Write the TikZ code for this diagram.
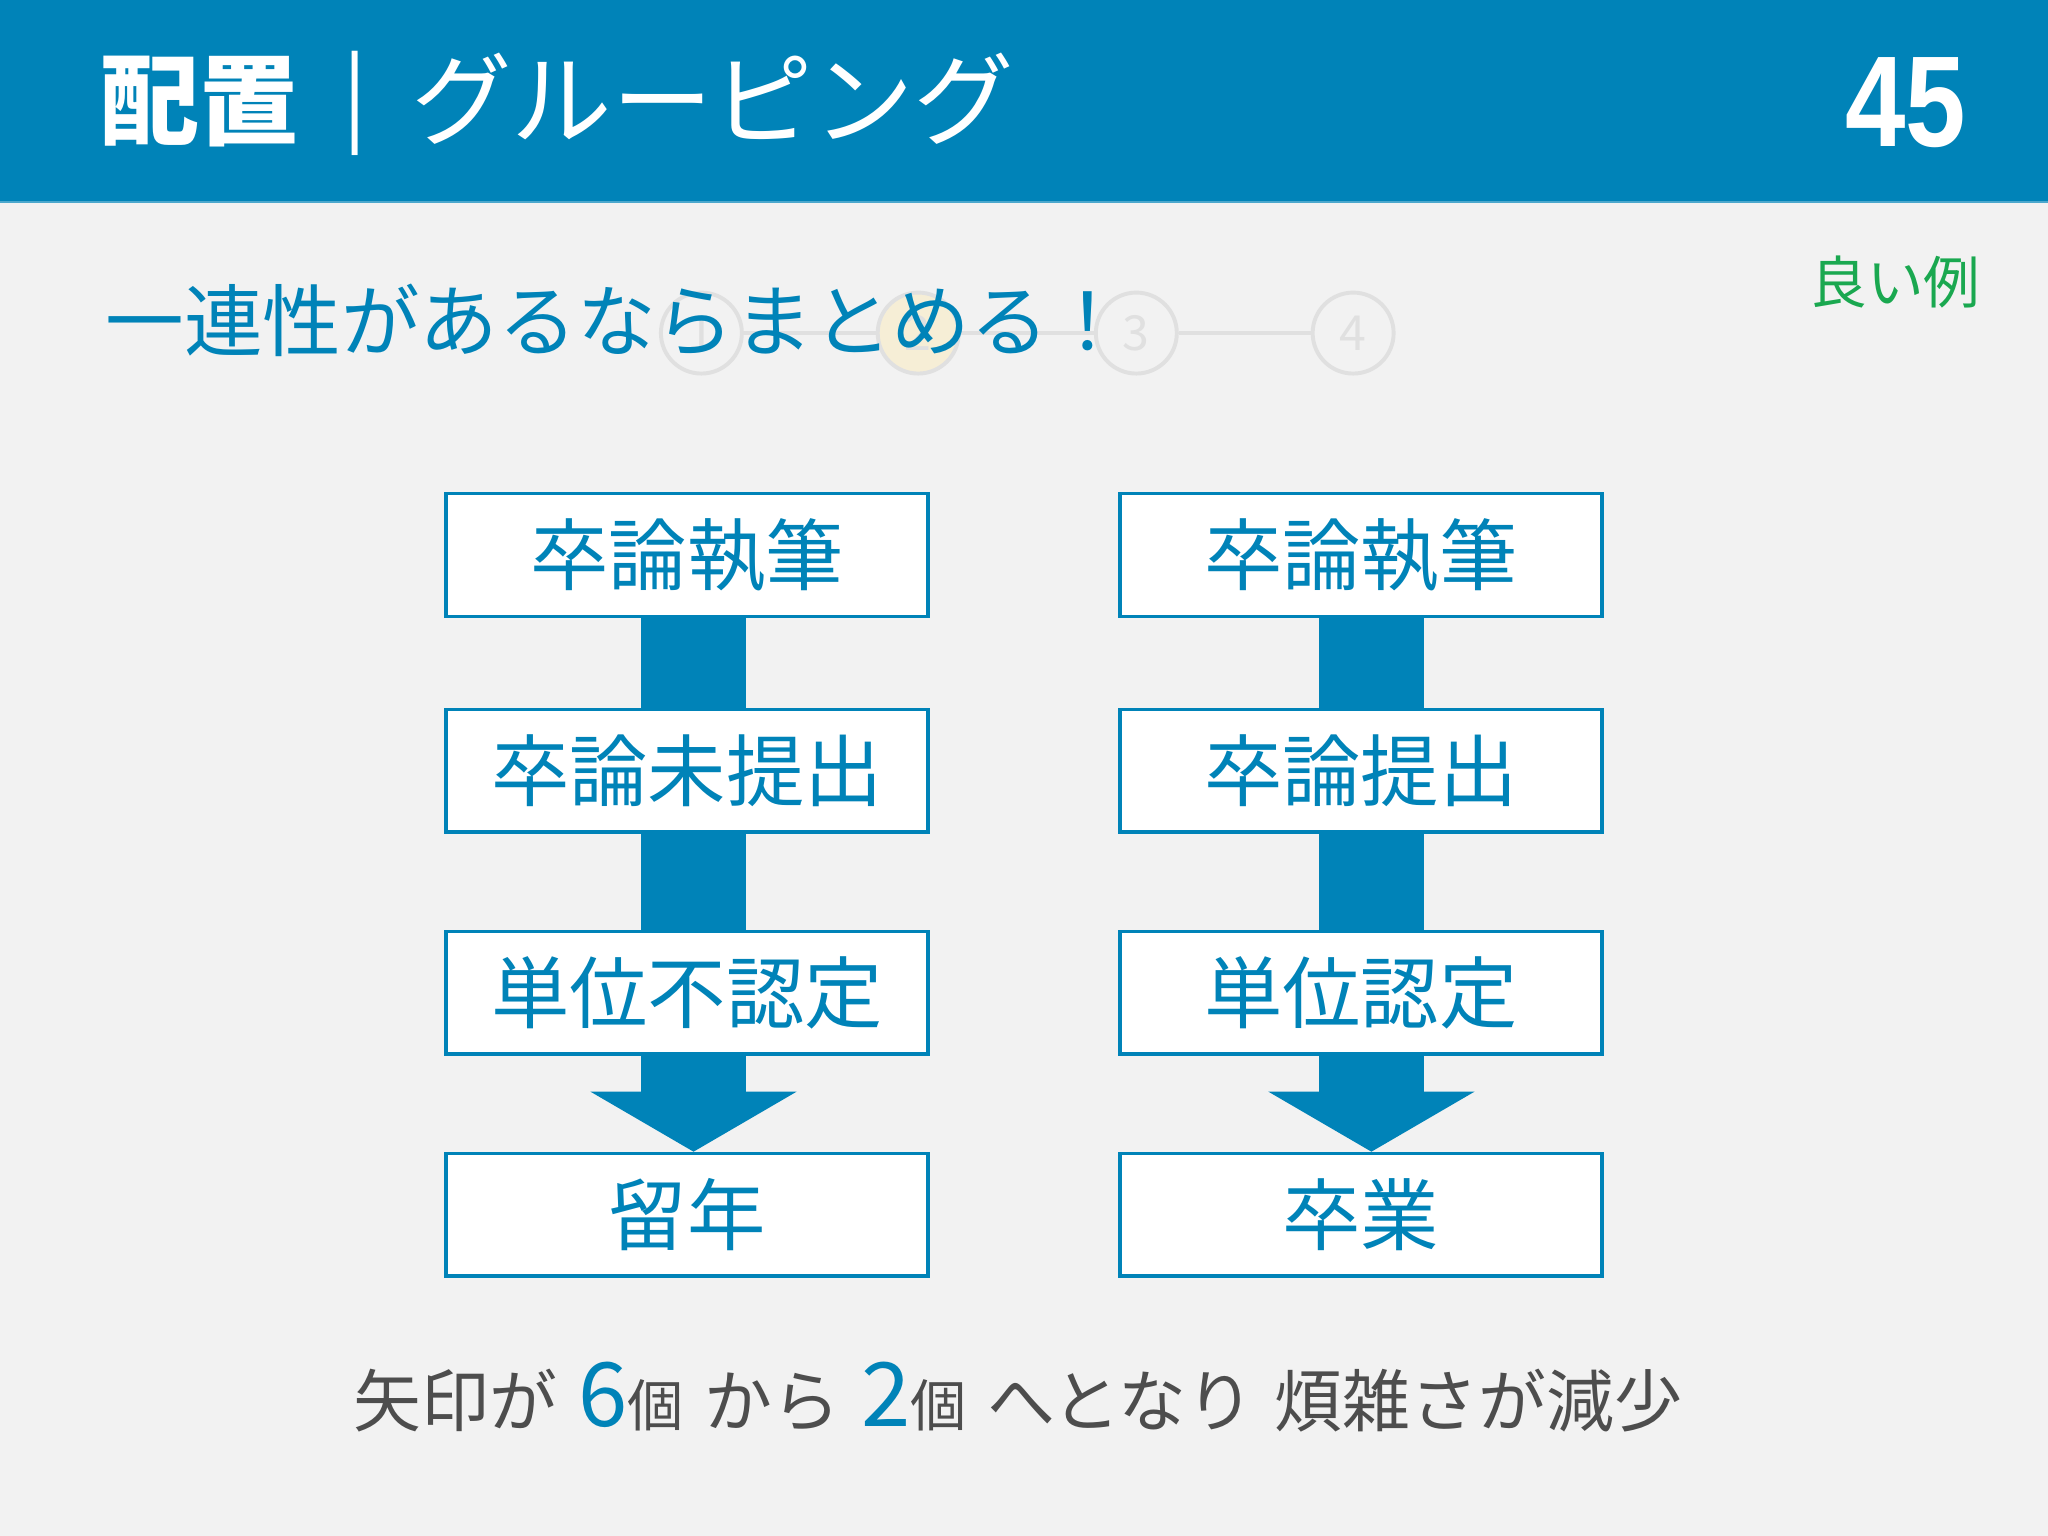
\documentclass[tikz,border=0pt]{standalone}
\usepackage{fontspec}
\newfontfamily\jpfont{Noto Sans CJK JP}
\newfontfamily\numfont{Liberation Sans}
\usetikzlibrary{arrows.meta}
\definecolor{hdblue}{RGB}{0,131,184}
\definecolor{slidebg}{RGB}{242,242,242}
\definecolor{okgreen}{RGB}{26,168,80}
\definecolor{txtgray}{RGB}{77,77,77}
\definecolor{dotgray}{RGB}{224,224,224}
\definecolor{dotyellow}{RGB}{246,238,214}
\newcommand\jpsize[1]{\fontsize{#1mm}{#1mm}\selectfont}
\newcommand\gap{\hspace{1.6mm}}

\begin{document}
\begin{tikzpicture}[x=0.1mm,y=-0.1mm,
	flowbox/.style={draw=hdblue,line width=0.25mm,fill=white,minimum width=36.9mm,minimum height=9.4mm,inner sep=0pt,text=hdblue,font=\jpfont\jpsize{6}},
	flowbar/.style={draw=hdblue,line width=8mm},
	flowhead/.style={-{Triangle[width=15.8mm,length=4.6mm,line width=0pt]}},
	stepdot/.style={circle,draw=dotgray,line width=0.3mm,fill=slidebg,minimum size=6.2mm,inner sep=0pt,text=dotgray,font=\jpfont\jpsize{3.7}},
	stepline/.style={draw=dotgray,line width=0.3mm}]
		%%%%% START %%%%%
		\useasboundingbox (0,0) rectangle (1568,1176);
		\fill[slidebg] (0,0) rectangle (1568,1176);
		\fill[hdblue] (0,0) rectangle (1568,155);
		\draw[hdblue!70!white,line width=0.15mm] (0,155) -- (1568,155);
		
		%%%%% HEADER %%%%%
		\node[anchor=base west,inner sep=0pt,text=white,font=\jpfont\bfseries\jpsize{7.6}] (ttl) at (76,105) {配置};
		\node[anchor=base,inner sep=0pt,text=white,font=\jpfont\jpsize{7.15}] (sep) at (272,99) {|};
		\node[anchor=base west,inner sep=0pt,text=white,font=\jpfont\jpsize{7.7}] (ttlsub) at (314,105) {グルーピング};
		\node[anchor=base east,inner sep=0pt,text=white,font=\numfont\bfseries\jpsize{9.9},xscale=0.84] (pgno) at (1506,112) {45};
		
		%%%%% STEPS %%%%%
		\node[stepdot] (s1) at (537,255) {1};
		\node[stepdot,fill=dotyellow] (s2) at (703,255) {2};
		\node[stepdot] (s3) at (870,255) {3};
		\node[stepdot] (s4) at (1036,255) {4};
		\draw[stepline] (s1) -- (s2) -- (s3) -- (s4);
		
		\node[anchor=base west,inner sep=0pt,text=hdblue,font=\jpfont\jpsize{6.02}] (lead) at (80,268) {一連性があるならまとめる！};
		\node[anchor=base east,inner sep=0pt,text=okgreen,font=\jpfont\jpsize{4.33}] (good) at (1517,232) {良い例};
		
		%%%%% FLOW %%%%%
		\node[flowbox] (l1) at (526,425) {卒論執筆};
		\node[flowbox] (l2) at (526,590) {卒論未提出};
		\node[flowbox] (l3) at (526,760) {単位不認定};
		\node[flowbox] (l4) at (526,930) {留年};
		
		\node[flowbox] (r1) at (1042,425) {卒論執筆};
		\node[flowbox] (r2) at (1042,590) {卒論提出};
		\node[flowbox] (r3) at (1042,760) {単位認定};
		\node[flowbox] (r4) at (1042,930) {卒業};
		
		\draw[flowbar] ([xshift=0.5mm]l1.south) -- ([xshift=0.5mm]l2.north);
		\draw[flowbar] ([xshift=0.5mm]l2.south) -- ([xshift=0.5mm]l3.north);
		\draw[flowbar,flowhead] ([xshift=0.5mm]l3.south) -- ([xshift=0.5mm]l4.north);
		\draw[flowbar] ([xshift=0.8mm]r1.south) -- ([xshift=0.8mm]r2.north);
		\draw[flowbar] ([xshift=0.8mm]r2.south) -- ([xshift=0.8mm]r3.north);
		\draw[flowbar,flowhead] ([xshift=0.8mm]r3.south) -- ([xshift=0.8mm]r4.north);
		
		%%%%% NOTE %%%%%
		\node[anchor=base west,inner sep=0pt,text=txtgray,font=\jpfont\jpsize{5.2}] (note) at (270,1092) {矢印が\gap{\color{hdblue}\jpsize{6.8}6}{\jpsize{4.3}個}\gap から\gap{\color{hdblue}\jpsize{6.8}2}{\jpsize{4.3}個}\gap へとなり\gap 煩雑さが減少};
		%%%%% END %%%%%
\end{tikzpicture}
\end{document}
